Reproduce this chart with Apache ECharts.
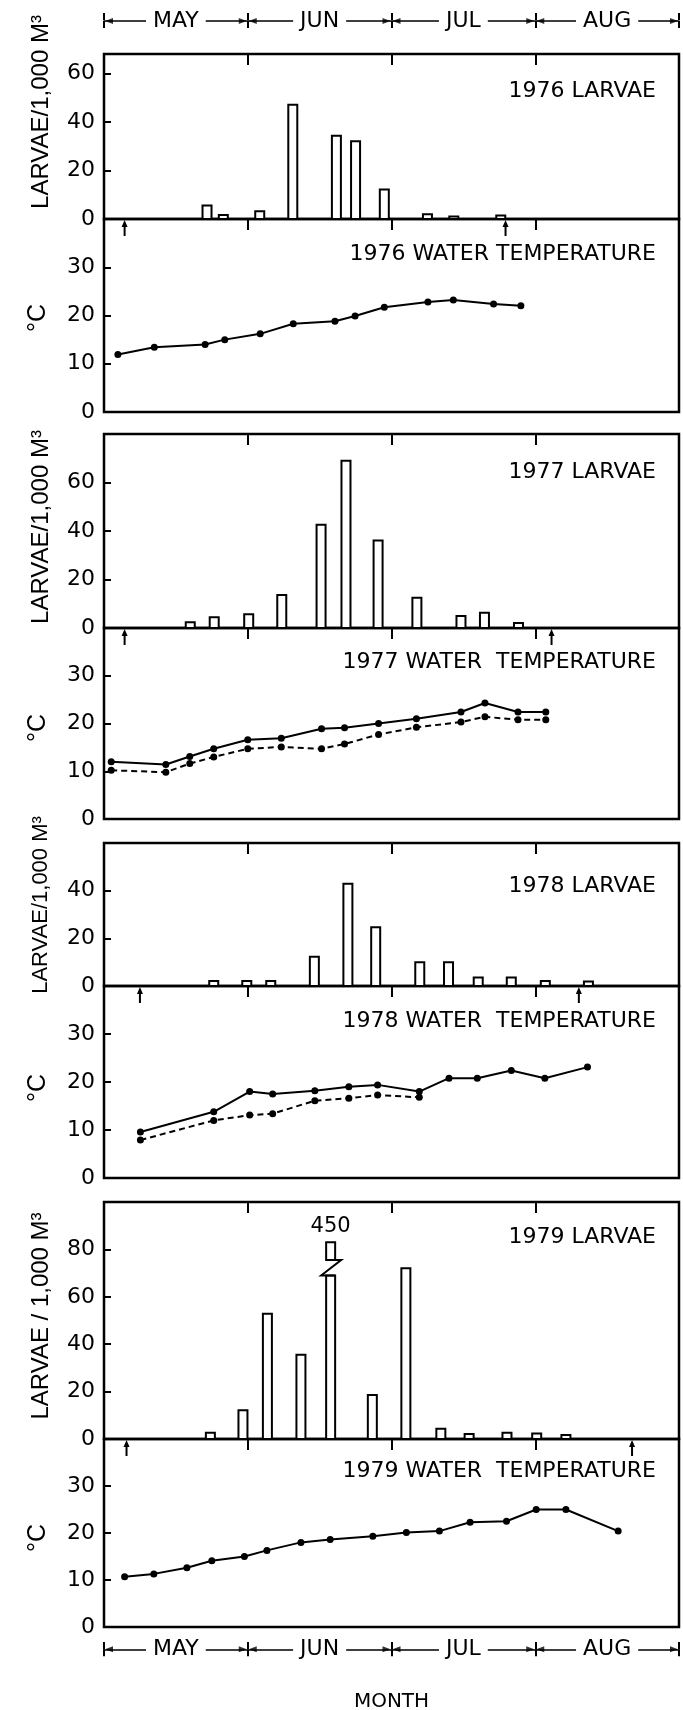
<!DOCTYPE html>
<html>
<head>
<meta charset="utf-8">
<title>Larvae and water temperature, 1976-1979</title>
<script src="https://cdn.jsdelivr.net/npm/echarts@6/dist/echarts.min.js"></script>
<style>
  html, body { margin: 0; padding: 0; background: #fff; }
  #chart { width: 683px; height: 1710px; }
</style>
</head>
<body>
<div id="chart"></div>
<script>
// x values are days from 1 May, 30 per month (the months are drawn with equal width)
const monthNames = ['MAY', 'JUN', 'JUL', 'AUG'];
const monthCenters = [15, 45, 75, 105];
const monthEdges = [0, 30, 60, 90, 120];

// 1976
const larvaeDays1976 = [21.5, 24.9, 32.5, 39.4, 48.5, 52.5, 58.5, 67.5, 73, 82.8];
const larvae1976 = [5.6, 1.7, 3.2, 47.1, 34.3, 32, 12.2, 2, 1, 1.4];
const tempDays1976 = [2.9, 10.5, 21.1, 25.2, 32.6, 39.5, 48.2, 52.4, 58.5, 67.6, 72.9, 81.3, 87];
const temp1976 = [11.9, 13.4, 14.0, 15.0, 16.2, 18.3, 18.8, 19.9, 21.7, 22.8, 23.2, 22.4, 22.0];
const sampling1976 = [4.3, 83.8];

// 1977
const larvaeDays1977 = [18, 23, 30.2, 37.1, 45.3, 50.5, 57.2, 65.3, 74.5, 79.4, 86.5];
const larvae1977 = [2.4, 4.4, 5.7, 13.6, 42.6, 69, 36.1, 12.5, 4.9, 6.3, 2.1];
const tempDays1977 = [1.5, 12.9, 17.9, 22.9, 30, 37, 45.4, 50.2, 57.3, 65.2, 74.5, 79.5, 86.4, 92.2];
const tempUpper1977 = [12.0, 11.4, 13.1, 14.7, 16.6, 16.9, 18.9, 19.1, 20.0, 21.0, 22.4, 24.3, 22.4, 22.4];
const tempLower1977 = [10.2, 9.8, 11.6, 13.0, 14.7, 15.1, 14.7, 15.7, 17.7, 19.2, 20.3, 21.4, 20.8, 20.8];
const sampling1977 = [4.3, 93.4];

// 1978
const larvaeDays1978 = [22.9, 29.8, 34.8, 43.9, 50.9, 56.7, 65.9, 71.9, 78.1, 85, 92.1, 101.1];
const larvae1978 = [2.1, 2.1, 2.1, 12.3, 42.9, 24.7, 10, 10, 3.6, 3.6, 2.1, 1.9];
const tempDays1978 = [7.6, 22.9, 30.4, 35.2, 44, 51.1, 57.1, 65.8, 72, 77.9, 85, 92, 100.9];
const tempUpper1978 = [9.6, 13.8, 18.0, 17.5, 18.2, 19.0, 19.4, 18.0, 20.8, 20.8, 22.4, 20.8, 23.1];
const tempLower1978 = [7.9, 12.0, 13.1, 13.4, 16.1, 16.6, 17.3, 16.8];
const sampling1978 = [7.5, 99.1];

// 1979 (one catch of 450 is drawn with a broken bar)
const larvaeDays1979 = [22.2, 29, 34.1, 41.1, 47.3, 56, 63, 70.3, 76.2, 84.1, 90.3, 96.4];
const larvae1979 = [2.6, 12.1, 52.9, 35.5, 450, 18.6, 72, 4.3, 2.1, 2.6, 2.3, 1.7];
const tempDays1979 = [4.3, 10.4, 17.3, 22.5, 29.3, 34, 41.1, 47.2, 56.1, 63.1, 70, 76.4, 84, 90.2, 96.4, 107.3];
const temp1979 = [10.7, 11.3, 12.6, 14.1, 15.0, 16.3, 18.0, 18.6, 19.3, 20.1, 20.4, 22.3, 22.5, 25.0, 25.0, 20.4];
const sampling1979 = [4.7, 110.2];

const FONT = 'DejaVu Sans';
const NAME_FONT = 'Liberation Sans';

const chart = echarts.init(document.getElementById('chart'));

const grids = [], xAxes = [], yAxes = [], series = [], titles = [], graphics = [];

const pair = (days, vals) => vals.map((v, i) => [days[i], v]);

function barRenderer(brk) {
    return function (params, api) {
        const day = api.value(0);
        const val = api.value(1);
        const half = 4.5;
        const [x, y0] = api.coord([day, 0]);
        const style = { fill: '#fff', stroke: '#000', lineWidth: 2 };
        if (!brk || val <= brk.top) {
            const y1 = api.coord([day, val])[1];
            return { type: 'rect', shape: { x: x - half, y: y1, width: half * 2, height: y0 - y1 }, style };
        }
        const yLow = api.coord([day, brk.low])[1];
        const yHigh = api.coord([day, brk.high])[1];
        const yTop = api.coord([day, brk.top])[1];
        return {
            type: 'group',
            children: [
                { type: 'rect', shape: { x: x - half, y: yLow, width: half * 2, height: y0 - yLow }, style },
                { type: 'rect', shape: { x: x - half, y: yTop, width: half * 2, height: yHigh - yTop }, style },
                {
                    type: 'polyline',
                    shape: { points: [[x - half, yHigh], [x + half + 6, yHigh], [x - half - 5, yLow], [x + half, yLow]] },
                    style: { fill: null, stroke: '#000', lineWidth: 2 }
                },
                {
                    type: 'text', x: x, y: yTop - 5,
                    style: { text: String(val), fontSize: 21, fontFamily: FONT, fill: '#000', align: 'center', verticalAlign: 'bottom' }
                }
            ]
        };
    };
}

function arrowRenderer(params, api) {
    const [x, y] = api.coord([api.value(0), 40]);
    return {
        type: 'group',
        children: [
            { type: 'line', shape: { x1: x, y1: y + 5, x2: x, y2: y + 17 }, style: { stroke: '#000', lineWidth: 2 } },
            { type: 'polygon', shape: { points: [[x, y + 1], [x - 3, y + 8], [x + 3, y + 8]] }, style: { fill: '#000' } }
        ]
    };
}

function addPanel(p) {
    const g = grids.length;
    const xi = xAxes.length;
    const yi = yAxes.length;
    grids.push({ left: 104, right: 4, top: p.top, height: p.bottom - p.top, show: true, borderColor: '#000', borderWidth: 2.5 });
    xAxes.push({
        gridIndex: g, type: 'value', min: 0, max: 120, interval: 30, position: 'top',
        axisLine: { show: false, onZero: false },
        axisTick: { show: true, inside: true, length: 11, lineStyle: { color: '#000', width: 2 } },
        axisLabel: { show: false },
        splitLine: { show: false }
    });
    yAxes.push({
        gridIndex: g, type: 'value', min: 0, max: p.max, interval: p.interval,
        axisLine: { show: false, onZero: false },
        axisTick: { show: true, inside: true, length: 7, lineStyle: { color: '#000', width: 2 } },
        axisLabel: {
            color: '#000', fontSize: 22, fontFamily: FONT, margin: 9,
            formatter: v => (v % p.interval === 0 && v < p.max) ? String(v) : ''
        },
        splitLine: { show: false }
    });
    titles.push({
        text: p.title, right: 27, top: p.titleTop, padding: 0,
        textStyle: { color: '#000', fontSize: 22, fontWeight: 'normal', fontFamily: FONT }
    });
    graphics.push({
        type: 'text', x: p.nameX, y: p.nameY, rotation: Math.PI / 2,
        style: {
            text: p.name, fontSize: p.nameSize || 24, fontFamily: NAME_FONT, fill: '#000',
            align: 'center', verticalAlign: 'middle', textAlign: 'center', textVerticalAlign: 'middle'
        }
    });
    return { xi, yi };
}

function addLarvae(p, days, vals, brk) {
    const ax = addPanel(Object.assign({ interval: 20, nameX: 41 }, p));
    series.push({
        type: 'custom', xAxisIndex: ax.xi, yAxisIndex: ax.yi,
        data: pair(days, vals),
        renderItem: barRenderer(brk),
        silent: true, z: 3
    });
}

function addTemp(p, lines, sampling) {
    const ax = addPanel(Object.assign({ max: 40, interval: 10, name: '°C', nameX: 38, nameSize: 25 }, p));
    lines.forEach(l => {
        series.push({
            type: 'line', xAxisIndex: ax.xi, yAxisIndex: ax.yi,
            data: pair(l.days, l.vals),
            symbol: 'circle', symbolSize: 7, showSymbol: true,
            itemStyle: { color: '#000' },
            lineStyle: { color: '#000', width: 2, type: l.dashed ? [6, 4] : 'solid' },
            silent: true
        });
    });
    series.push({
        type: 'custom', xAxisIndex: ax.xi, yAxisIndex: ax.yi,
        data: sampling.map(d => [d]),
        renderItem: arrowRenderer,
        silent: true, z: 4
    });
}

function addMonthBar(top, withName) {
    const g = grids.length;
    grids.push({ left: 104, right: 4, top: top, height: 1, show: false });
    const ticks = { show: true, customValues: monthEdges, length: 7, lineStyle: { color: '#000', width: 2 } };
    const xi = xAxes.length;
    xAxes.push({
        gridIndex: g, type: 'value', min: 0, max: 120, position: 'bottom',
        axisLine: { show: true, onZero: false, lineStyle: { color: '#000', width: 1.5 } },
        axisTick: ticks,
        axisLabel: {
            customValues: monthCenters,
            formatter: v => monthNames[monthCenters.indexOf(v)] || '',
            color: '#000', fontSize: 22, fontFamily: FONT,
            margin: 0, verticalAlign: 'middle',
            backgroundColor: '#fff', padding: [0, 7]
        },
        splitLine: { show: false },
        name: withName ? 'MONTH' : '',
        nameLocation: 'middle', nameGap: 43,
        nameTextStyle: { color: '#000', fontSize: 20, fontFamily: FONT }
    });
    xAxes.push({
        gridIndex: g, type: 'value', min: 0, max: 120, position: 'top',
        axisLine: { show: false, onZero: false },
        axisTick: ticks,
        axisLabel: { show: false },
        splitLine: { show: false }
    });
    const yi = yAxes.length;
    yAxes.push({ gridIndex: g, type: 'value', min: 0, max: 1, show: false });
    // little arrowheads either side of each month boundary
    series.push({
        type: 'scatter', xAxisIndex: xi, yAxisIndex: yi,
        data: monthEdges.slice(0, -1).map(d => [d, 0]),
        symbol: 'triangle', symbolSize: [6, 8], symbolRotate: 90, symbolOffset: [5, 0],
        itemStyle: { color: '#000' }, silent: true
    });
    series.push({
        type: 'scatter', xAxisIndex: xi, yAxisIndex: yi,
        data: monthEdges.slice(1).map(d => [d, 0]),
        symbol: 'triangle', symbolSize: [6, 8], symbolRotate: -90, symbolOffset: [-5, 0],
        itemStyle: { color: '#000' }, silent: true
    });
}

addMonthBar(20, false);

addLarvae({ top: 54, bottom: 219, max: 68, title: '1976 LARVAE', titleTop: 80, name: 'LARVAE/1,000 M³', nameY: 112 },
    larvaeDays1976, larvae1976);
addTemp({ top: 219, bottom: 412, title: '1976 WATER TEMPERATURE', titleTop: 243, nameY: 318 },
    [{ days: tempDays1976, vals: temp1976 }], sampling1976);

addLarvae({ top: 434, bottom: 628, max: 80, title: '1977 LARVAE', titleTop: 461, name: 'LARVAE/1,000 M³', nameY: 527 },
    larvaeDays1977, larvae1977);
addTemp({ top: 628, bottom: 819, title: '1977 WATER  TEMPERATURE', titleTop: 651, nameY: 728 },
    [{ days: tempDays1977, vals: tempUpper1977 }, { days: tempDays1977, vals: tempLower1977, dashed: true }], sampling1977);

addLarvae({ top: 843, bottom: 986, max: 60, title: '1978 LARVAE', titleTop: 875, name: 'LARVAE/1,000 M³', nameY: 905, nameSize: 22 },
    larvaeDays1978, larvae1978);
addTemp({ top: 986, bottom: 1178, title: '1978 WATER  TEMPERATURE', titleTop: 1010, nameY: 1088 },
    [{ days: tempDays1978, vals: tempUpper1978 }, { days: tempDays1978, vals: tempLower1978, dashed: true }], sampling1978);

addLarvae({ top: 1202, bottom: 1439, max: 100, title: '1979 LARVAE', titleTop: 1226, name: 'LARVAE / 1,000 M³', nameY: 1316 },
    larvaeDays1979, larvae1979, { low: 69, high: 75.5, top: 83 });
addTemp({ top: 1439, bottom: 1627, title: '1979 WATER  TEMPERATURE', titleTop: 1460, nameY: 1538 },
    [{ days: tempDays1979, vals: temp1979 }], sampling1979);

addMonthBar(1649, true);

chart.setOption({
    backgroundColor: '#fff',
    animation: false,
    title: titles,
    grid: grids,
    xAxis: xAxes,
    yAxis: yAxes,
    series: series,
    graphic: graphics
});
</script>
</body>
</html>
